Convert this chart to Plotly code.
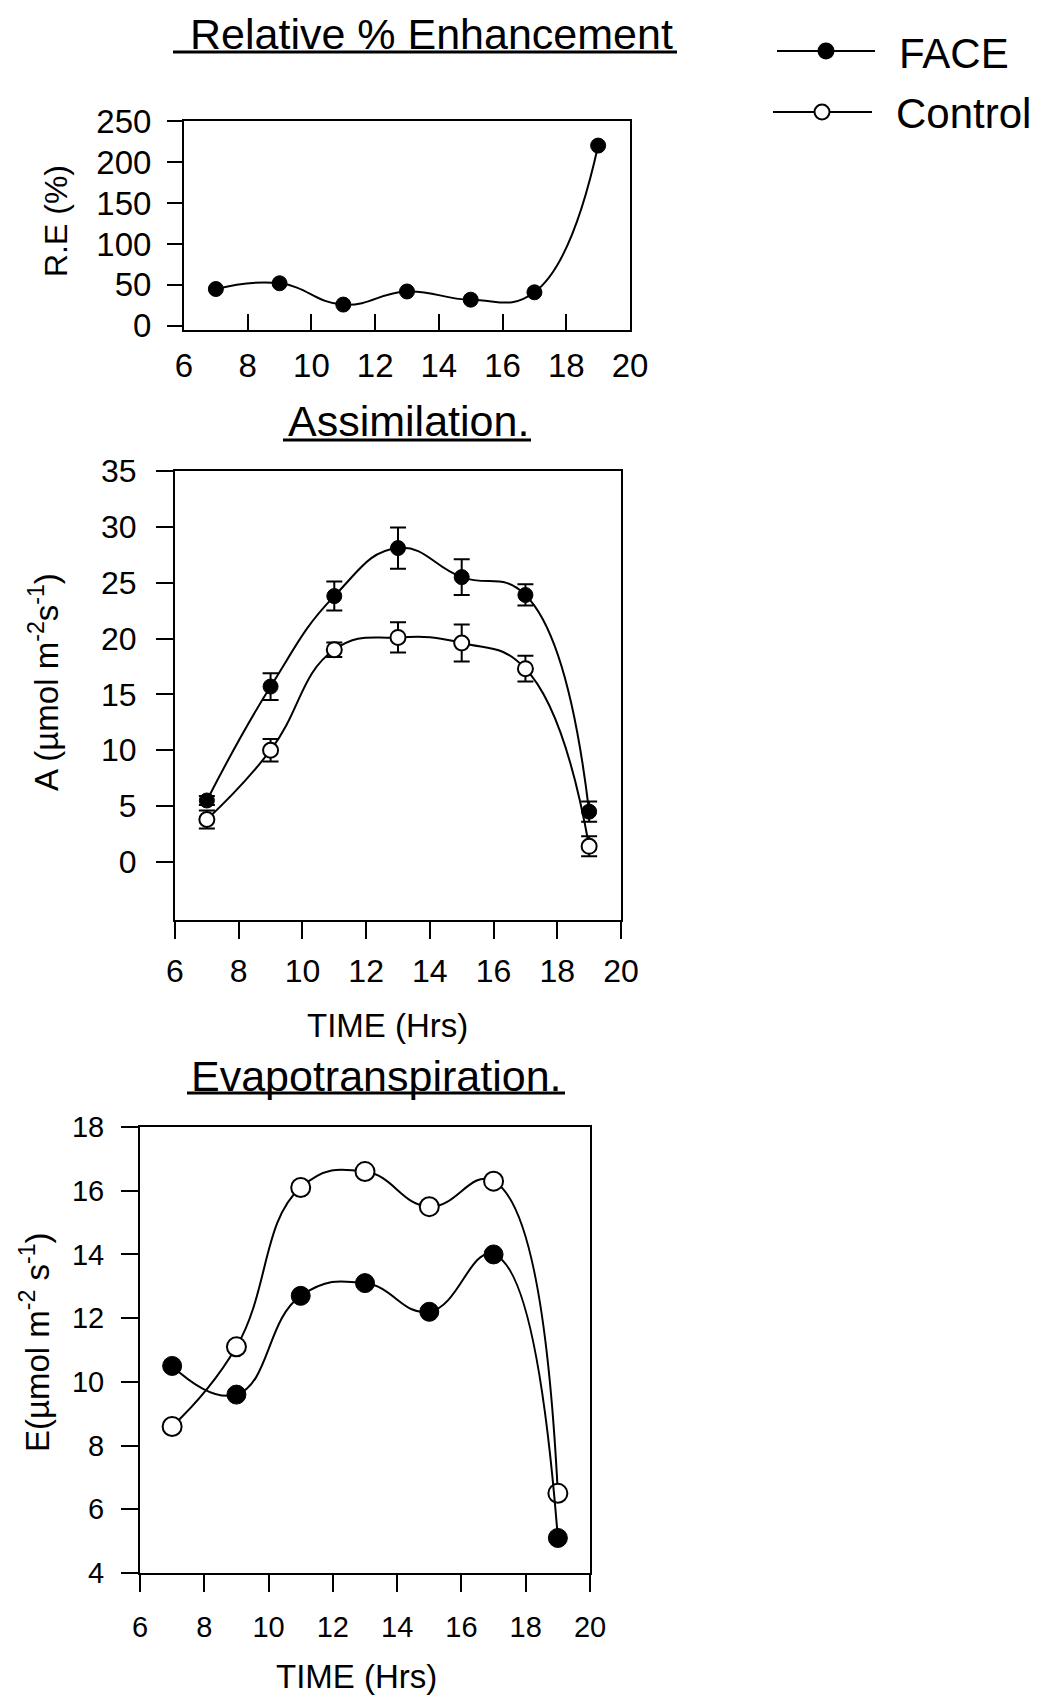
import plotly.graph_objects as go

# Sampling times (hours of the day)
hours = [7, 9, 11, 13, 15, 17, 19]

# Relative % enhancement of assimilation (FACE over Control)
re_pct = [45, 52, 26, 42, 32, 41, 220]

# Assimilation, A (umol m-2 s-1), with standard errors
a_face = [5.5, 15.7, 23.8, 28.1, 25.5, 23.9, 4.5]
a_face_err = [0.4, 1.2, 1.3, 1.85, 1.6, 0.95, 0.9]
a_ctrl = [3.8, 10.0, 19.0, 20.1, 19.6, 17.3, 1.4]
a_ctrl_err = [0.8, 1.0, 0.65, 1.35, 1.65, 1.15, 0.9]

# Evapotranspiration, E (umol m-2 s-1)
e_face = [10.5, 9.6, 12.7, 13.1, 12.2, 14.0, 5.1]
e_ctrl = [8.6, 11.1, 16.1, 16.6, 15.5, 16.3, 6.5]

x_ticks = [6, 8, 10, 12, 14, 16, 18, 20]
re_ticks = [0, 50, 100, 150, 200, 250]
a_ticks = [0, 5, 10, 15, 20, 25, 30, 35]
e_ticks = [4, 6, 8, 10, 12, 14, 16, 18]

W, H = 1049, 1699
FONT = "Liberation Sans, Arial, Helvetica, sans-serif"


def fx(px):
    return px / W


def fy(py):
    return 1 - py / H


line_style = dict(color="black", width=2, shape="spline", smoothing=1.3)
filled = dict(symbol="circle", size=15, color="black", line=dict(color="black", width=1))
hollow = dict(symbol="circle", size=15, color="white", line=dict(color="black", width=2))


def err(arr):
    return dict(type="data", array=arr, visible=True, color="black", thickness=2, width=8)


fig = go.Figure()

# Panel 1: relative enhancement
fig.add_trace(go.Scatter(x=hours, y=re_pct, mode="lines+markers", line=line_style,
                         marker=filled, xaxis="x", yaxis="y", showlegend=False))

# Panel 2: assimilation
fig.add_trace(go.Scatter(x=hours, y=a_ctrl, error_y=err(a_ctrl_err), mode="lines+markers",
                         line=line_style, marker=hollow, xaxis="x2", yaxis="y2", showlegend=False))
fig.add_trace(go.Scatter(x=hours, y=a_face, error_y=err(a_face_err), mode="lines+markers",
                         line=line_style, marker=filled, xaxis="x2", yaxis="y2", showlegend=False))

# Panel 3: evapotranspiration
fig.add_trace(go.Scatter(x=hours, y=e_ctrl, mode="lines+markers", line=line_style,
                         marker=dict(hollow, size=19), xaxis="x3", yaxis="y3", showlegend=False))
fig.add_trace(go.Scatter(x=hours, y=e_face, mode="lines+markers", line=line_style,
                         marker=dict(filled, size=19), xaxis="x3", yaxis="y3", showlegend=False))


def axis(size=33, **kw):
    d = dict(showline=True, linecolor="black", linewidth=2, mirror=True, showgrid=False,
             zeroline=False, ticks="outside", ticklen=16, tickwidth=2, tickcolor="black",
             tickfont=dict(family=FONT, size=size, color="black"), fixedrange=True,
             automargin=False)
    d.update(kw)
    return d


# plot boxes in pixels: (left, right, top, bottom)
box1 = (184, 630, 121, 330)
box2 = (175, 621, 471, 920)
box3 = (140, 590, 1127, 1573)

fig.update_layout(
    xaxis=axis(domain=[fx(box1[0]), fx(box1[1])], range=[6, 20], tickvals=x_ticks,
               ticks="inside", anchor="y", ticklabelstandoff=5),
    yaxis=axis(domain=[fy(box1[3]), fy(box1[2])], range=[-5, 250], tickvals=re_ticks,
               anchor="x", ticklen=15, ticklabelstandoff=9),
    xaxis2=axis(size=32, domain=[fx(box2[0]), fx(box2[1])], range=[6, 20], tickvals=x_ticks,
                anchor="y2", ticklen=17, ticklabelstandoff=5),
    yaxis2=axis(size=32, domain=[fy(box2[3]), fy(box2[2])], range=[-5.2, 35], tickvals=a_ticks,
                anchor="x2", ticklen=17, ticklabelstandoff=13),
    xaxis3=axis(size=29, domain=[fx(box3[0]), fx(box3[1])], range=[6, 20], tickvals=x_ticks,
                anchor="y3", ticklen=17, ticklabelstandoff=10),
    yaxis3=axis(size=29, domain=[fy(box3[3]), fy(box3[2])], range=[4, 18], tickvals=e_ticks,
                anchor="x3", ticklen=17, ticklabelstandoff=11),
)

annotations = []


def text(s, x, y, size, angle=0, xanchor="center"):
    annotations.append(dict(text=s, x=fx(x), y=fy(y), xref="paper", yref="paper",
                            showarrow=False, textangle=angle, xanchor=xanchor, yanchor="middle",
                            font=dict(family=FONT, size=size, color="black")))


# panel titles
text("Relative % Enhancement", 431, 34, 43)
text("Assimilation.", 408, 421, 43)
text("Evapotranspiration.", 376, 1076, 43)

# axis titles
text("R.E (%)", 56, 221, 32, angle=-90)
text("A (\u00b5mol m<sup>-2</sup>s<sup>-1</sup>)", 44, 682, 33, angle=-90)
text("E(\u00b5mol m<sup>-2</sup> s<sup>-1</sup>)", 35, 1342, 33, angle=-90)
text("TIME (Hrs)", 387, 1025, 33)
text("TIME (Hrs)", 356, 1676, 33)

# legend labels
text("FACE", 897, 54, 42, xanchor="left")
text("Control", 894, 113, 42, xanchor="left")

shapes = []


def hline(x0, x1, y, width):
    shapes.append(dict(type="line", xref="paper", yref="paper", x0=fx(x0), x1=fx(x1),
                       y0=fy(y), y1=fy(y), line=dict(color="black", width=width)))


def dot(cx, cy, d, fill):
    r = d / 2
    shapes.append(dict(type="circle", xref="paper", yref="paper", xsizemode="pixel",
                       ysizemode="pixel", xanchor=fx(cx), yanchor=fy(cy),
                       x0=-r, x1=r, y0=-r, y1=r, fillcolor=fill,
                       line=dict(color="black", width=2)))


# title underlines
hline(173, 677, 52, 3)
hline(283, 531, 440, 3)
hline(187, 565, 1093, 3)

# legend keys
hline(777, 875, 51, 2)
dot(826, 51, 15, "black")
hline(773, 872, 112, 2)
dot(822, 112, 15, "white")

fig.update_layout(
    width=W, height=H,
    margin=dict(l=0, r=0, t=0, b=0, pad=0, autoexpand=False),
    paper_bgcolor="white", plot_bgcolor="white",
    font=dict(family=FONT, color="black"),
    annotations=annotations, shapes=shapes,
)

fig.write_html("out.html", post_script="document.body.style.margin='0';")
